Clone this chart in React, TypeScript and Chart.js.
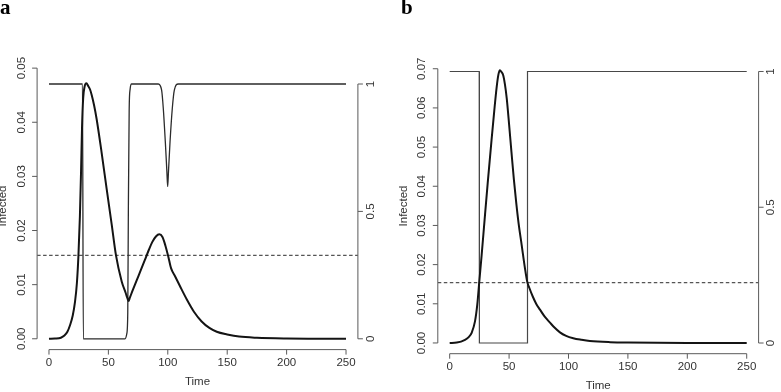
import React, { useEffect, useRef } from "react";
import { Chart, registerables } from "chart.js";

Chart.register(...registerables);

// ---- shared axis values ----
const timeTicks = [0, 50, 100, 150, 200, 250];
const timeMin = -10;
const timeMax = 260;
const controlTicks = [0, 0.5, 1];
const threshold = 0.0154;

// ---- panel a ----
const infectedTicksA = [0, 0.01, 0.02, 0.03, 0.04, 0.05];
const timeA = [
  0, 5, 10, 13, 15.5, 17.7, 20, 21.9, 23.5, 24.8, 26, 27, 27.8, 28.8, 30, 31.5, 33, 34.5, 36, 38,
  40.1, 44.3, 48.6, 52.8, 56.4, 61.2, 64.5, 66, 67, 68, 70, 73.8, 76.6, 80.8, 84, 87, 90, 92.9, 95.5,
  98, 100.4, 102.8, 106, 110.3, 115.9, 122, 128.5, 135, 141.2, 150, 160, 175, 200, 225, 250,
];
const infectedA = [
  0, 0.00004, 0.0002, 0.0006, 0.0013, 0.0025, 0.0043, 0.0068, 0.0103, 0.0154, 0.0225, 0.031, 0.039,
  0.0445, 0.0466, 0.0472, 0.0467, 0.0461, 0.045, 0.0431, 0.0406, 0.0344, 0.0276, 0.0211, 0.0154,
  0.0106, 0.0085, 0.0075, 0.007, 0.00755, 0.0087, 0.0108, 0.0123, 0.0146, 0.0164, 0.0179, 0.0189,
  0.0193, 0.0188, 0.0172, 0.0152, 0.013, 0.0116, 0.0097, 0.0073, 0.005, 0.0032, 0.002, 0.0013,
  0.0008, 0.0004, 0.00018, 0.00005, 0.00002, 0.00001,
];
const controlTimeA = [
  0, 28.2, 28.9, 64, 65.5, 66.3, 66.8, 67.5, 68.3, 69.5, 92, 94.8, 96.2, 97.9, 99.2, 99.9, 100.6,
  101.9, 103.8, 105.5, 108.8, 250,
];
const controlA = [
  1, 1, 0, 0, 0.02, 0.1, 0.5, 0.9, 0.98, 1, 1, 0.976, 0.905, 0.774, 0.659, 0.597, 0.659, 0.774, 0.905,
  0.976, 1, 1,
];

// ---- panel b ----
const infectedTicksB = [0, 0.01, 0.02, 0.03, 0.04, 0.05, 0.06, 0.07];
const timeB = [
  0, 6, 12.9, 16, 18.5, 21.3, 23.2, 24.9, 26.9, 29.4, 32, 35, 37.5, 39.5, 41, 42.3, 43.5, 45.1, 46.5,
  48, 50, 52, 54, 56, 58, 60.6, 63.4, 65.3, 67, 70, 73, 76, 80, 84.4, 88, 92.8, 98, 104, 111, 118,
  135, 150, 200, 250,
];
const infectedB = [
  0, 0.0001, 0.0008, 0.0015, 0.0026, 0.0055, 0.0097, 0.0156, 0.0224, 0.0315, 0.0408, 0.051, 0.0592,
  0.0652, 0.0685, 0.0696, 0.0692, 0.0683, 0.066, 0.0625, 0.0558, 0.0487, 0.0418, 0.0358, 0.0305,
  0.025, 0.019, 0.0156, 0.0141, 0.0118, 0.0099, 0.0085, 0.0067, 0.0052, 0.004, 0.0027, 0.0018, 0.0012,
  0.0008, 0.0005, 0.0002, 0.0001, 0.00002, 0.00001,
];
const controlTimeB = [0, 24.85, 25.0, 65.3, 65.5, 250];
const controlB = [1, 1, 0, 0, 1, 1];

// ---- drawing setup ----
const W = 781;
const H = 392;
const AXIS_COLOR = "#5a5a5a";
const TEXT_COLOR = "#333333";
const SANS = '11.5px "Liberation Sans", Arial, Helvetica, sans-serif';
const SERIF_BOLD = 'bold 21px "Liberation Serif", "Times New Roman", serif';

type Panel = {
  letter: string;
  letterX: number;
  area: { left: number; right: number; top: number; bottom: number };
  yMin: number;
  yMax: number;
  y2Min: number;
  y2Max: number;
  yTicks: number[];
  time: number[];
  infected: number[];
  controlTime: number[];
  control: number[];
  smoothControl: boolean;
  controlColor: string;
  controlWidth: number;
};

const panels: Panel[] = [
  {
    letter: "a",
    letterX: 0,
    area: { left: 37.1, right: 357.9, top: 57.3, bottom: 349.6 },
    yMin: -0.002,
    yMax: 0.052,
    y2Min: -0.0424,
    y2Max: 1.1048,
    yTicks: infectedTicksA,
    time: timeA,
    infected: infectedA,
    controlTime: controlTimeA,
    control: controlA,
    smoothControl: true,
    controlColor: "#2b2b2b",
    controlWidth: 1.3,
  },
  {
    letter: "b",
    letterX: 401,
    area: { left: 437.8, right: 758.6, top: 60.9, bottom: 353.7 },
    yMin: -0.00274,
    yMax: 0.072,
    y2Min: -0.0394,
    y2Max: 1.039,
    yTicks: infectedTicksB,
    time: timeB,
    infected: infectedB,
    controlTime: controlTimeB,
    control: controlB,
    smoothControl: false,
    controlColor: "#474747",
    controlWidth: 1.2,
  },
];

function rotatedText(ctx: CanvasRenderingContext2D, text: string, cx: number, cy: number) {
  ctx.save();
  ctx.translate(cx, cy);
  ctx.rotate(-Math.PI / 2);
  ctx.textAlign = "center";
  ctx.textBaseline = "middle";
  ctx.fillText(text, 0, 0);
  ctx.restore();
}

// Base-graphics style axes: open frame, outward ticks, labels parallel to the axis
function axesPlugin(p: Panel) {
  return {
    id: "baseAxes",
    afterDraw(chart: any) {
      const ctx: CanvasRenderingContext2D = chart.ctx;
      const xs = chart.scales.x;
      const ys = chart.scales.y;
      const y2s = chart.scales.y2;
      const a = chart.chartArea;
      const tick = 5;
      ctx.save();
      ctx.strokeStyle = AXIS_COLOR;
      ctx.lineWidth = 1;
      ctx.fillStyle = TEXT_COLOR;
      ctx.font = SANS;

      // bottom axis
      const by = a.bottom;
      ctx.beginPath();
      ctx.moveTo(xs.getPixelForValue(timeTicks[0]), by);
      ctx.lineTo(xs.getPixelForValue(timeTicks[timeTicks.length - 1]), by);
      for (const t of timeTicks) {
        const px = xs.getPixelForValue(t);
        ctx.moveTo(px, by);
        ctx.lineTo(px, by + tick);
      }
      ctx.stroke();
      ctx.textAlign = "center";
      ctx.textBaseline = "middle";
      for (const t of timeTicks) {
        ctx.fillText(String(t), xs.getPixelForValue(t), by + 13.4);
      }
      ctx.fillText("Time", (a.left + a.right) / 2, by + 32.4);

      // left axis
      const lx = a.left;
      ctx.beginPath();
      ctx.moveTo(lx, ys.getPixelForValue(p.yTicks[0]));
      ctx.lineTo(lx, ys.getPixelForValue(p.yTicks[p.yTicks.length - 1]));
      for (const v of p.yTicks) {
        const py = ys.getPixelForValue(v);
        ctx.moveTo(lx, py);
        ctx.lineTo(lx - tick, py);
      }
      ctx.stroke();
      for (const v of p.yTicks) {
        rotatedText(ctx, v.toFixed(2), lx - 15.7, ys.getPixelForValue(v));
      }
      rotatedText(ctx, "Infected", lx - 34.3, 206);

      // right axis
      const rx = a.right;
      ctx.beginPath();
      ctx.moveTo(rx, y2s.getPixelForValue(controlTicks[0]));
      ctx.lineTo(rx, y2s.getPixelForValue(controlTicks[controlTicks.length - 1]));
      for (const v of controlTicks) {
        const py = y2s.getPixelForValue(v);
        ctx.moveTo(rx, py);
        ctx.lineTo(rx + tick, py);
      }
      ctx.stroke();
      for (const v of controlTicks) {
        rotatedText(ctx, String(v), rx + 12.6, y2s.getPixelForValue(v));
      }

      // panel letter
      ctx.font = SERIF_BOLD;
      ctx.fillStyle = "#000";
      ctx.textAlign = "left";
      ctx.textBaseline = "alphabetic";
      ctx.fillText(p.letter, p.letterX, 14);
      ctx.restore();
    },
  };
}

function PanelChart({ p }: { p: Panel }) {
  const ref = useRef<HTMLCanvasElement>(null);
  useEffect(() => {
    if (!ref.current) return;
    const toPoints = (xs: number[], ys: number[]) => xs.map((x, i) => ({ x, y: ys[i] }));
    const chart = new Chart(ref.current, {
      type: "line",
      data: {
        datasets: [
          {
            label: "Infected",
            data: toPoints(p.time, p.infected),
            yAxisID: "y",
            borderColor: "#141414",
            borderWidth: 2,
            pointRadius: 0,
            cubicInterpolationMode: "monotone",
            fill: false,
          },
          {
            label: "Control",
            data: toPoints(p.controlTime, p.control),
            yAxisID: "y2",
            borderColor: p.controlColor,
            borderWidth: p.controlWidth,
            pointRadius: 0,
            cubicInterpolationMode: p.smoothControl ? "monotone" : "default",
            tension: 0,
            fill: false,
          },
          {
            label: "Threshold",
            data: [
              { x: timeMin, y: threshold },
              { x: timeMax, y: threshold },
            ],
            yAxisID: "y",
            borderColor: "#555555",
            borderWidth: 1.4,
            borderDash: [3.5, 2.5],
            pointRadius: 0,
            fill: false,
          },
        ],
      } as any,
      options: {
        responsive: false,
        animation: false,
        devicePixelRatio: 1,
        events: [],
        layout: {
          padding: {
            left: p.area.left,
            right: W - p.area.right,
            top: p.area.top,
            bottom: H - p.area.bottom,
          },
        },
        plugins: { legend: { display: false }, tooltip: { enabled: false }, title: { display: false } },
        scales: {
          x: { type: "linear", min: timeMin, max: timeMax, display: false },
          y: { type: "linear", min: p.yMin, max: p.yMax, display: false },
          y2: { type: "linear", min: p.y2Min, max: p.y2Max, display: false },
        },
      } as any,
      plugins: [axesPlugin(p)],
    });
    return () => chart.destroy();
  }, [p]);
  return (
    <canvas
      ref={ref}
      width={W}
      height={H}
      style={{ position: "absolute", left: 0, top: 0, width: W, height: H }}
    />
  );
}

export default function App() {
  return (
    <div style={{ position: "absolute", left: 0, top: 0, width: W, height: H, background: "#fff" }}>
      {panels.map((p) => (
        <PanelChart key={p.letter} p={p} />
      ))}
    </div>
  );
}
